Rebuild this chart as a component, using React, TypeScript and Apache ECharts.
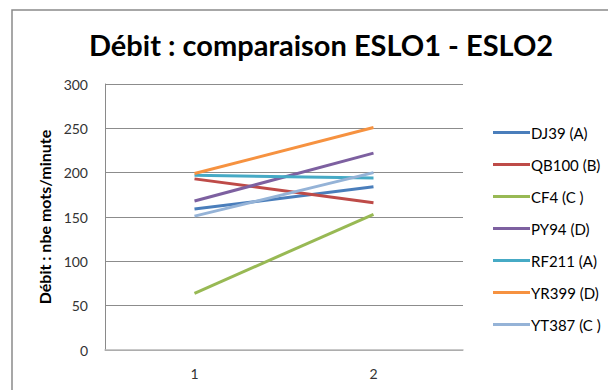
import React, { useEffect, useRef } from "react";
import * as echarts from "echarts";

const categories = ["1", "2"];
const seriesNames = ["DJ39 (A)", "QB100 (B)", "CF4 (C )", "PY94 (D)", "RF211 (A)", "YR399 (D)", "YT387 (C )"];
const dj39 = [159, 184];
const qb100 = [193, 166];
const cf4 = [64, 153];
const py94 = [168, 222];
const rf211 = [197, 194];
const yr399 = [199, 251];
const yt387 = [151, 200];
const seriesValues = [dj39, qb100, cf4, py94, rf211, yr399, yt387];
const colors = ["#4A7EBB", "#BE4B48", "#98B954", "#7D60A0", "#46AAC5", "#F69240", "#95B3D7"];

const FONT = "Lato";

export default function App() {
  const ref = useRef<HTMLDivElement>(null);
  useEffect(() => {
    if (!ref.current) return;
    const chart = echarts.init(ref.current, undefined, { renderer: "svg" });
    chart.setOption({
      animation: false,
      backgroundColor: "#ffffff",
      color: colors,
      title: {
        text: "Débit : comparaison ESLO1 - ESLO2",
        left: 84,
        top: 25,
        textStyle: { fontFamily: FONT, fontSize: 29, fontWeight: "bold", color: "#000000" },
      },
      graphic: [
        {
          type: "rect",
          shape: { x: 12, y: 10, width: 640, height: 420 },
          style: { fill: "none", stroke: "#8a8a8a", lineWidth: 1.5 },
          silent: true,
        },
      ],
      legend: {
        orient: "vertical",
        left: 488,
        top: 120,
        itemWidth: 37,
        itemHeight: 3,
        itemGap: 17,
        icon: "rect",
        data: seriesNames,
        textStyle: { fontFamily: FONT, fontSize: 15, color: "#000000", padding: [0, 0, 0, -4] },
      },
      grid: { left: 105, right: 145, top: 84, bottom: 40, containLabel: false },
      xAxis: {
        type: "category",
        data: categories,
        boundaryGap: true,
        axisLine: { show: true, lineStyle: { color: "#b8b8b8", width: 1.5 } },
        axisTick: { show: false },
        axisLabel: { fontFamily: FONT, fontSize: 14, color: "#333333", margin: 16 },
        splitLine: { show: false },
      },
      yAxis: {
        type: "value",
        min: 0,
        max: 300,
        interval: 50,
        name: "Débit : nbe mots/minute",
        nameLocation: "middle",
        nameGap: 50,
        nameTextStyle: { fontFamily: FONT, fontSize: 16, fontWeight: "bold", color: "#000000" },
        axisLine: { show: true, lineStyle: { color: "#8a8a8a", width: 1 } },
        axisTick: { show: false },
        axisLabel: { fontFamily: FONT, fontSize: 14, color: "#333333", margin: 17 },
        splitLine: { show: true, lineStyle: { color: "#8c8c8c", width: 1 } },
      },
      series: seriesNames.map((name, i) => ({
        name,
        type: "line",
        data: seriesValues[i],
        symbol: "none",
        lineStyle: { width: 3, color: colors[i] },
        itemStyle: { color: colors[i] },
      })),
    });
    return () => chart.dispose();
  }, []);
  return <div ref={ref} style={{ position: "absolute", left: 0, top: 0, width: 608, height: 390 }} />;
}
